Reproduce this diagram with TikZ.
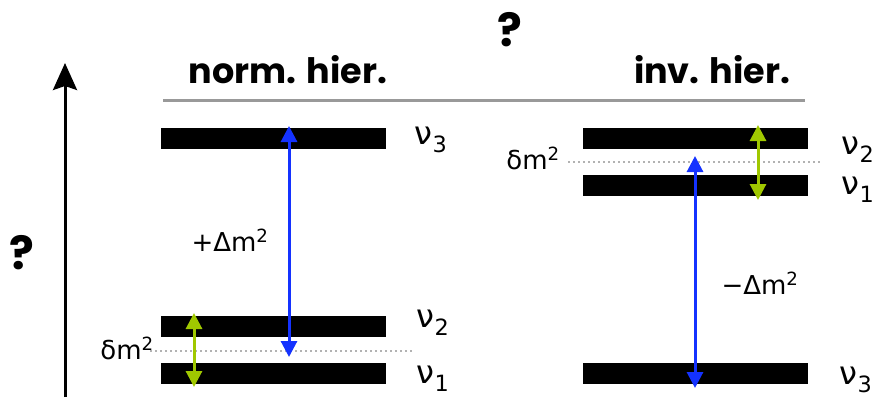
\documentclass[tikz,border=0pt]{standalone}
\usepackage{fontspec}
\setmainfont{DejaVu Sans}
\newfontfamily\titlefont{Poppins}
\usetikzlibrary{arrows.meta}
\definecolor{dmblue}{RGB}{20,50,255}
\definecolor{dmgreen}{RGB}{160,200,0}
\begin{document}
\begin{tikzpicture}[x=1pt,y=-1pt,
  level/.style={fill=black,minimum width=225pt,minimum height=21pt,inner sep=0pt,anchor=north west},
  title/.style={font=\titlefont\bfseries\fontsize{35}{38}\selectfont},
  qmark/.style={font=\titlefont\bfseries\fontsize{46}{48}\selectfont},
  lab/.style={font=\fontsize{26}{28}\selectfont},
  nulab/.style={font=\fontsize{32}{34}\selectfont},
  sub/.style={font=\fontsize{24}{26}\selectfont},
  blue arrow/.style={draw=dmblue,line width=3pt,-{Triangle[width=16pt,length=16pt]}},
  green arrow/.style={draw=dmgreen,line width=3pt,{Triangle[width=16pt,length=16pt]}-{Triangle[width=16pt,length=16pt]}},
  dotline/.style={draw=gray!60,line width=2pt,dash pattern=on 2pt off 3pt},
]
\useasboundingbox (0,0) rectangle (875,397);
% axis
\coordinate (axb) at (65,397);
\coordinate (axt) at (65,63);
\draw[line width=3pt,-{Stealth[width=24pt,length=27pt,inset=4pt]}] (axb) -- (axt);
\node[qmark] (ql) at (22,253) {?};
\node[qmark] (qt) at (510,30) {?};
\node[title] (tn) at (288,70) {norm. hier.};
\node[title] (ti) at (712,70) {inv. hier.};
\coordinate (hl) at (163,100);
\coordinate (hr) at (805,100);
\draw[gray!80,line width=3pt] (hl) -- (hr);

% normal hierarchy
\node[level] (n3) at (161,128) {};
\node[level] (n2) at (161,316) {};
\node[level] (n1) at (161,363) {};
\coordinate (nd1) at (150,351);
\coordinate (nd2) at (413,351);
\draw[dotline] (nd1) -- (nd2);
\coordinate (nbt) at (289,126);
\coordinate (nbb) at (289,238);
\coordinate (nbe) at (289,357);
\draw[blue arrow] (nbb) -- (nbt);
\draw[blue arrow] (nbb) -- (nbe);
\coordinate (ng1) at (194,313);
\coordinate (ng2) at (194,387);
\draw[green arrow] (ng1) -- (ng2);
\node[nulab] (nl3) at (431,140) {ν\textsubscript{3}};
\node[nulab] (nl2) at (433,323) {ν\textsubscript{2}};
\node[nulab] (nl1) at (433,379) {ν\textsubscript{1}};
\node[lab] (ndm) at (127,348) {δm\textsuperscript{2}};
\node[lab] (nDm) at (230,240) {+Δm\textsuperscript{2}};

% inverted hierarchy
\node[level] (i2) at (583,128) {};
\node[level] (i1) at (583,175) {};
\node[level] (i3) at (583,363) {};
\coordinate (id1) at (568,162);
\coordinate (id2) at (820,162);
\draw[dotline] (id1) -- (id2);
\coordinate (ibt) at (695,156);
\coordinate (ibm) at (695,270);
\coordinate (ibb) at (695,388);
\draw[blue arrow] (ibm) -- (ibt);
\draw[blue arrow] (ibm) -- (ibb);
\coordinate (ig1) at (758,125);
\coordinate (ig2) at (758,200);
\draw[green arrow] (ig1) -- (ig2);
\node[nulab] (il2) at (858,150) {ν\textsubscript{2}};
\node[nulab] (il1) at (858,190) {ν\textsubscript{1}};
\node[nulab] (il3) at (856,380) {ν\textsubscript{3}};
\node[lab] (idm) at (533,158) {δm\textsuperscript{2}};
\node[lab] (iDm) at (760,283) {−Δm\textsuperscript{2}};
\end{tikzpicture}
\end{document}
